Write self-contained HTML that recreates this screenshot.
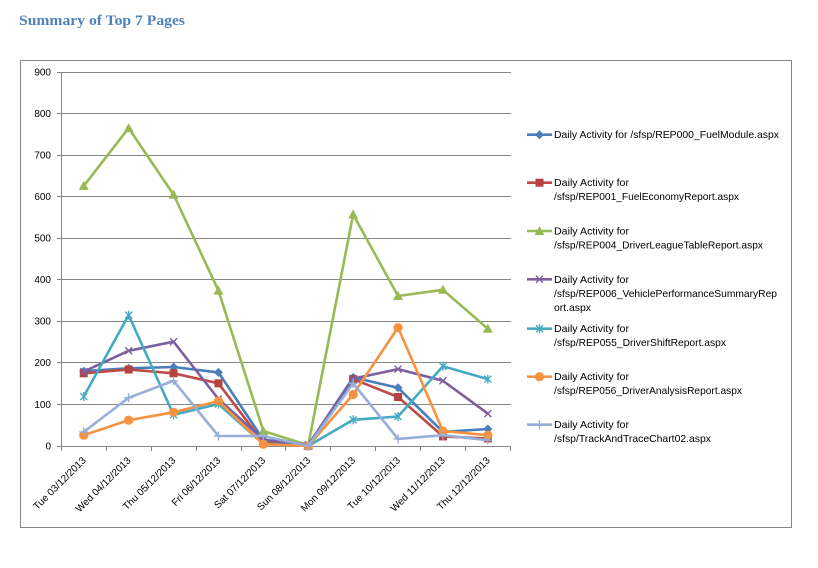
<!DOCTYPE html>
<html><head><meta charset="utf-8"><style>
html,body{margin:0;padding:0;background:#fff;}
svg{display:block;}
</style></head><body>
<svg width="818" height="568" viewBox="0 0 818 568" xmlns="http://www.w3.org/2000/svg">
<defs>
<marker id="m1" markerUnits="userSpaceOnUse" markerWidth="12" markerHeight="12" refX="6" refY="6" overflow="visible"><polygon points="6,1.5 10.5,6 6,10.5 1.5,6" fill="#4A7EBB"/></marker>
<marker id="m2" markerUnits="userSpaceOnUse" markerWidth="12" markerHeight="12" refX="6" refY="6" overflow="visible"><rect x="2" y="2" width="8" height="8" fill="#B5423F"/></marker>
<marker id="m3" markerUnits="userSpaceOnUse" markerWidth="12" markerHeight="12" refX="6" refY="6" overflow="visible"><polygon points="6,1 11,10 1,10" fill="#98B954"/></marker>
<marker id="m4" markerUnits="userSpaceOnUse" markerWidth="12" markerHeight="12" refX="6" refY="6" overflow="visible"><path d="M2.5,2.5 L9.5,9.5 M9.5,2.5 L2.5,9.5" stroke="#7D60A0" stroke-width="1.4" fill="none"/></marker>
<marker id="m5" markerUnits="userSpaceOnUse" markerWidth="12" markerHeight="12" refX="6" refY="6" overflow="visible"><path d="M2.5,2.5 L9.5,9.5 M9.5,2.5 L2.5,9.5 M6,1.5 L6,10.5" stroke="#46AAC5" stroke-width="1.4" fill="none"/></marker>
<marker id="m6" markerUnits="userSpaceOnUse" markerWidth="12" markerHeight="12" refX="6" refY="6" overflow="visible"><circle cx="6" cy="6" r="4.6" fill="#F69240"/></marker>
<marker id="m7" markerUnits="userSpaceOnUse" markerWidth="12" markerHeight="12" refX="6" refY="6" overflow="visible"><path d="M1.5,6 L10.5,6 M6,1.5 L6,10.5" stroke="#95AFD8" stroke-width="1.4" fill="none"/></marker>
</defs>

<text x="19" y="25" font-family="'Liberation Serif', serif" font-weight="bold" font-size="14.5" fill="#4F81BD" textLength="166" lengthAdjust="spacingAndGlyphs">Summary of Top 7 Pages</text>

<rect x="20.5" y="60.5" width="771" height="467" fill="none" stroke="#868686" stroke-width="1"/>

<g stroke="#868686" stroke-width="1" fill="none" shape-rendering="crispEdges">
<line x1="57" y1="72.5" x2="511" y2="72.5"/>
<line x1="57" y1="113.5" x2="511" y2="113.5"/>
<line x1="57" y1="155.5" x2="511" y2="155.5"/>
<line x1="57" y1="196.5" x2="511" y2="196.5"/>
<line x1="57" y1="238.5" x2="511" y2="238.5"/>
<line x1="57" y1="279.5" x2="511" y2="279.5"/>
<line x1="57" y1="321.5" x2="511" y2="321.5"/>
<line x1="57" y1="362.5" x2="511" y2="362.5"/>
<line x1="57" y1="404.5" x2="511" y2="404.5"/>
<line x1="57" y1="446.5" x2="511" y2="446.5"/>
<line x1="61.5" y1="72" x2="61.5" y2="447"/>
<line x1="61.5" y1="446" x2="61.5" y2="451"/>
<line x1="106.5" y1="446" x2="106.5" y2="451"/>
<line x1="151.5" y1="446" x2="151.5" y2="451"/>
<line x1="196.5" y1="446" x2="196.5" y2="451"/>
<line x1="241.5" y1="446" x2="241.5" y2="451"/>
<line x1="285.5" y1="446" x2="285.5" y2="451"/>
<line x1="330.5" y1="446" x2="330.5" y2="451"/>
<line x1="375.5" y1="446" x2="375.5" y2="451"/>
<line x1="420.5" y1="446" x2="420.5" y2="451"/>
<line x1="465.5" y1="446" x2="465.5" y2="451"/>
<line x1="510.5" y1="446" x2="510.5" y2="451"/>
</g>

<g font-family="'Liberation Sans', sans-serif" font-size="10" fill="#000" text-anchor="end">
<text x="51" y="75.5">900</text>
<text x="51" y="117">800</text>
<text x="51" y="158.5">700</text>
<text x="51" y="200">600</text>
<text x="51" y="241.5">500</text>
<text x="51" y="283">400</text>
<text x="51" y="324.5">300</text>
<text x="51" y="366">200</text>
<text x="51" y="408">100</text>
<text x="51" y="449.5">0</text>
</g>

<g font-family="'Liberation Sans', sans-serif" font-size="10" fill="#000" text-anchor="end">
<text transform="translate(86.5,461) rotate(-45)">Tue 03/12/2013</text>
<text transform="translate(131.4,461) rotate(-45)">Wed 04/12/2013</text>
<text transform="translate(176.3,461) rotate(-45)">Thu 05/12/2013</text>
<text transform="translate(221.2,461) rotate(-45)">Fri 06/12/2013</text>
<text transform="translate(266.1,461) rotate(-45)">Sat 07/12/2013</text>
<text transform="translate(311,461) rotate(-45)">Sun 08/12/2013</text>
<text transform="translate(355.9,461) rotate(-45)">Mon 09/12/2013</text>
<text transform="translate(400.8,461) rotate(-45)">Tue 10/12/2013</text>
<text transform="translate(445.7,461) rotate(-45)">Wed 11/12/2013</text>
<text transform="translate(490.6,461) rotate(-45)">Thu 12/12/2013</text>
</g>

<g fill="none" stroke-width="2.6" stroke-linejoin="round" stroke-linecap="round">
<polyline stroke="#4A7EBB" marker-start="url(#m1)" marker-mid="url(#m1)" marker-end="url(#m1)" points="83.75,371.2 128.65,368.3 173.55,367 218.45,372.4 263.35,439.8 308.25,445.2 353.15,377.4 398.05,387.8 442.95,431.9 487.85,429"/>
<polyline stroke="#BE4B48" marker-start="url(#m2)" marker-mid="url(#m2)" marker-end="url(#m2)" points="83.75,373.3 128.65,369.5 173.55,373.3 218.45,383.3 263.35,442.7 308.25,446 353.15,379.1 398.05,397 442.95,436.4 487.85,438.5"/>
<polyline stroke="#98B954" marker-start="url(#m3)" marker-mid="url(#m3)" marker-end="url(#m3)" points="83.75,185.9 128.65,128.1 173.55,194.6 218.45,290.6 263.35,431 308.25,445.2 353.15,214.5 398.05,296 442.95,289.8 487.85,328.8"/>
<polyline stroke="#7D60A0" marker-start="url(#m4)" marker-mid="url(#m4)" marker-end="url(#m4)" points="83.75,371.6 128.65,350.8 173.55,341.7 218.45,399 263.35,439.8 308.25,444.8 353.15,378.7 398.05,369.1 442.95,380.8 487.85,413.6"/>
<polyline stroke="#46AAC5" marker-start="url(#m5)" marker-mid="url(#m5)" marker-end="url(#m5)" points="83.75,396.5 128.65,315.1 173.55,414.8 218.45,404 263.35,443.9 308.25,446 353.15,419.8 398.05,416.5 442.95,366.2 487.85,379.1"/>
<polyline stroke="#F69240" marker-start="url(#m6)" marker-mid="url(#m6)" marker-end="url(#m6)" points="83.75,435.2 128.65,420.2 173.55,412.3 218.45,401.1 263.35,444.3 308.25,446 353.15,394.5 398.05,327.6 442.95,431 487.85,435.2"/>
<polyline stroke="#95AFD8" marker-start="url(#m7)" marker-mid="url(#m7)" marker-end="url(#m7)" points="83.75,431.9 128.65,397.8 173.55,380.8 218.45,436 263.35,436 308.25,446 353.15,383.3 398.05,438.9 442.95,435.2 487.85,440.2"/>
</g>

<g fill="none" stroke-width="2.6">
<polyline stroke="#4A7EBB" marker-mid="url(#m1)" points="527,134.7 539.5,134.7 552,134.7"/>
<polyline stroke="#BE4B48" marker-mid="url(#m2)" points="527,182.7 539.5,182.7 552,182.7"/>
<polyline stroke="#98B954" marker-mid="url(#m3)" points="527,231 539.5,231 552,231"/>
<polyline stroke="#7D60A0" marker-mid="url(#m4)" points="527,279.3 539.5,279.3 552,279.3"/>
<polyline stroke="#46AAC5" marker-mid="url(#m5)" points="527,328.7 539.5,328.7 552,328.7"/>
<polyline stroke="#F69240" marker-mid="url(#m6)" points="527,376.7 539.5,376.7 552,376.7"/>
<polyline stroke="#95AFD8" marker-mid="url(#m7)" points="527,424.7 539.5,424.7 552,424.7"/>
</g>

<g font-family="'Liberation Sans', sans-serif" font-size="10.2" fill="#000" lengthAdjust="spacingAndGlyphs">
<text x="554" y="138.2" textLength="225" lengthAdjust="spacingAndGlyphs">Daily Activity for /sfsp/REP000_FuelModule.aspx</text>
<text x="554" y="186.2" textLength="75" lengthAdjust="spacingAndGlyphs">Daily Activity for</text>
<text x="554" y="200.2" textLength="185" lengthAdjust="spacingAndGlyphs">/sfsp/REP001_FuelEconomyReport.aspx</text>
<text x="554" y="234.5" textLength="75" lengthAdjust="spacingAndGlyphs">Daily Activity for</text>
<text x="554" y="248.5" textLength="209" lengthAdjust="spacingAndGlyphs">/sfsp/REP004_DriverLeagueTableReport.aspx</text>
<text x="554" y="282.8" textLength="75" lengthAdjust="spacingAndGlyphs">Daily Activity for</text>
<text x="554" y="296.8" textLength="223" lengthAdjust="spacingAndGlyphs">/sfsp/REP006_VehiclePerformanceSummaryRep</text>
<text x="554" y="310.8" textLength="37" lengthAdjust="spacingAndGlyphs">ort.aspx</text>
<text x="554" y="332.2" textLength="75" lengthAdjust="spacingAndGlyphs">Daily Activity for</text>
<text x="554" y="346" textLength="172" lengthAdjust="spacingAndGlyphs">/sfsp/REP055_DriverShiftReport.aspx</text>
<text x="554" y="380.2" textLength="75" lengthAdjust="spacingAndGlyphs">Daily Activity for</text>
<text x="554" y="394" textLength="188" lengthAdjust="spacingAndGlyphs">/sfsp/REP056_DriverAnalysisReport.aspx</text>
<text x="554" y="428.2" textLength="75" lengthAdjust="spacingAndGlyphs">Daily Activity for</text>
<text x="554" y="442.2" textLength="157" lengthAdjust="spacingAndGlyphs">/sfsp/TrackAndTraceChart02.aspx</text>
</g>
</svg>
</body></html>
